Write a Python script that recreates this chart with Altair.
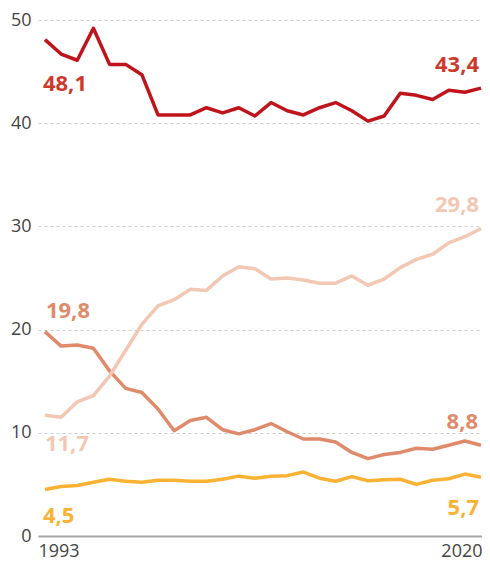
import altair as alt
import pandas as pd

years = list(range(1993, 2021))
red = [48.1, 46.7, 46.1, 49.2, 45.7, 45.7, 44.7, 40.8, 40.8, 40.8, 41.5, 41.0, 41.5, 40.7,
       42.0, 41.2, 40.8, 41.5, 42.0, 41.2, 40.2, 40.7, 42.9, 42.7, 42.3, 43.2, 43.0, 43.4]
light = [11.7, 11.5, 13.0, 13.6, 15.5, 18.0, 20.5, 22.3, 22.9, 23.9, 23.8, 25.2, 26.1, 25.9,
         24.9, 25.0, 24.8, 24.5, 24.5, 25.2, 24.3, 24.9, 26.0, 26.8, 27.3, 28.4, 29.0, 29.8]
salmon = [19.8, 18.4, 18.5, 18.2, 16.0, 14.3, 13.9, 12.3, 10.2, 11.2, 11.5, 10.3, 9.9, 10.3,
          10.9, 10.1, 9.4, 9.4, 9.1, 8.1, 7.5, 7.9, 8.1, 8.5, 8.4, 8.8, 9.2, 8.8]
yellow = [4.5, 4.8, 4.9, 5.2, 5.5, 5.3, 5.2, 5.4, 5.4, 5.3, 5.3, 5.5, 5.8, 5.6,
          5.8, 5.85, 6.2, 5.6, 5.3, 5.75, 5.35, 5.45, 5.5, 5.0, 5.4, 5.55, 6.0, 5.7]

x_ticks = [1993, 2020]
y_ticks = [0, 10, 20, 30, 40, 50]

FONT = "Open Sans"
xscale = alt.Scale(domain=[1992.57, 2020.06], nice=False, zero=False)
yscale = alt.Scale(domain=[0, 50], nice=False)

XAX = alt.Axis(values=x_ticks, format="d", ticks=False, grid=False,
               domainColor="#a6a6a6", domainWidth=2, labelFontSize=18,
               labelFont=FONT, labelColor="#444444", labelPadding=6,
               labelFlush=False, title=None,
               labelAlign={"condition": {"test": "datum.value == 1993", "value": "left"}, "value": "right"},
               labelOffset={"condition": {"test": "datum.value == 1993", "value": -7}, "value": 1})
YAX = alt.Axis(values=y_ticks, ticks=False, domain=False, grid=True,
               gridDash=[3, 3], gridColor="#cfcfcf", gridWidth=1,
               labelFontSize=18, labelFont=FONT, labelColor="#444444",
               labelPadding=7, title=None)


def fmt(v):
    return f"{v:.1f}".replace(".", ",")


def line_layer(vals, color):
    df = pd.DataFrame({"year": years, "value": vals})
    return alt.Chart(df).mark_line(color=color, strokeWidth=3.5, strokeJoin="round").encode(
        x=alt.X("year:Q", scale=xscale, axis=XAX),
        y=alt.Y("value:Q", scale=yscale, axis=YAX),
    )


def label_layer(year, val, color, align, dx, dy):
    df = pd.DataFrame({"year": [year], "value": [val], "label": [fmt(val)]})
    return alt.Chart(df).mark_text(
        color=color, font=FONT, fontSize=22, fontWeight="bold",
        align=align, baseline="alphabetic", dx=dx, dy=dy,
    ).encode(
        x=alt.X("year:Q", scale=xscale, axis=XAX),
        y=alt.Y("value:Q", scale=yscale, axis=YAX),
        text="label:N",
    )


C_RED = "#c0141c"
C_RED_T = "#cc3a2e"
C_SAL = "#e08a6c"
C_LIGHT = "#f2c8b4"
C_YEL = "#f9b233"

layers = [
    line_layer(yellow, C_YEL),
    line_layer(salmon, C_SAL),
    line_layer(light, C_LIGHT),
    line_layer(red, C_RED),
    label_layer(years[0], red[0], C_RED_T, "left", -2, 51),
    label_layer(years[-1], red[-1], C_RED_T, "right", -2, -16),
    label_layer(years[0], salmon[0], C_SAL, "left", 1, -14),
    label_layer(years[-1], salmon[-1], C_SAL, "right", -3, -16),
    label_layer(years[0], light[0], C_LIGHT, "left", 0, 36),
    label_layer(years[-1], light[-1], C_LIGHT, "right", -2, -16),
    label_layer(years[0], yellow[0], C_YEL, "left", -2, 33),
    label_layer(years[-1], yellow[-1], C_YEL, "right", -2, 38),
]

chart = alt.layer(*layers).properties(
    width=444, height=516,
    autosize="none",
    padding={"left": 30, "top": 12, "right": 0, "bottom": 27},
).configure_view(stroke=None)

chart.save("out.html", embed_options={"renderer": "svg", "actions": False})
